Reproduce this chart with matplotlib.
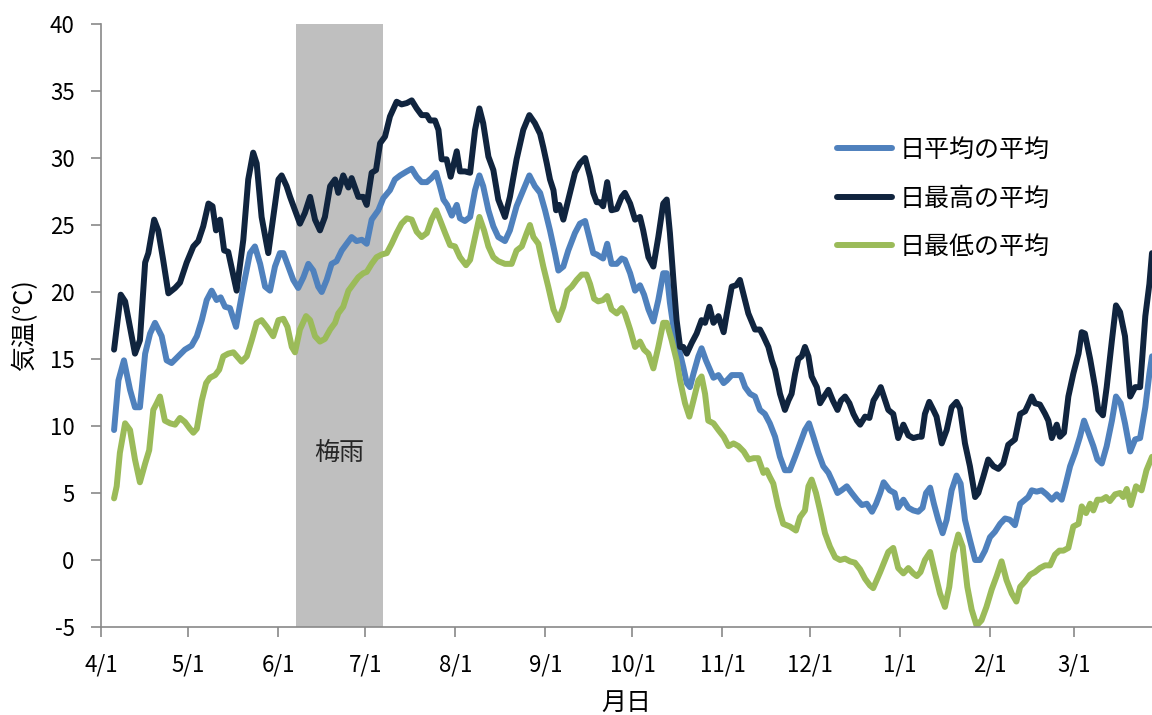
import numpy as np
import pandas as pd
import matplotlib
matplotlib.use('Agg')
import matplotlib.pyplot as plt

plt.rcParams['font.family'] = ['Noto Sans CJK JP', 'DejaVu Sans']
plt.rcParams['axes.unicode_minus'] = False

# 4/1 からの経過日数と気温
max_day = [4.5, 6.8, 8.3, 11.7, 13.4, 15.2, 16.3, 18.3, 19.7, 21.4, 23.2, 25.5, 27.2, 29.5, 31.8, 33.5,
           35.2, 37.0, 38.4, 39.6, 41.0, 42.4, 43.8, 46.7, 49.0, 50.7, 52.4, 53.6, 55.3, 57.6, 59.3, 61.1,
           62.2, 63.9, 65.1, 66.8, 68.5, 70.2, 72.0, 73.7, 75.4, 77.1, 78.9, 80.6, 81.7, 83.4, 85.2, 86.3,
           88.6, 90.3, 91.5, 93.2, 94.7, 96.1, 97.8, 99.5, 101.8, 103.5, 105.3, 107.0, 108.7, 110.4, 112.2,
           113.3, 115.0, 116.2, 117.3, 119.0, 120.4, 122.5, 123.6, 125.3, 127.1, 128.8, 130.3, 131.6, 133.4,
           135.1, 136.8, 139.1, 140.8, 143.1, 145.4, 147.5, 149.4, 151.2, 152.3, 153.5, 154.6, 155.8, 156.7,
           157.8, 159.2, 160.9, 163.2, 164.9, 166.7, 168.4, 169.5, 170.7, 171.8, 172.9, 174.3, 175.8, 177.6,
           179.3, 180.4, 182.2, 183.9, 185.6, 186.7, 188.5, 190.2, 191.9, 193.6, 194.8, 195.9, 197.1, 198.2,
           199.4, 200.5, 201.7, 203.4, 205.1, 206.8, 208.0, 209.5, 210.9, 212.6, 214.4, 215.5, 217.2, 218.7,
           220.0, 221.4, 222.9, 225.2, 226.9, 228.1, 229.8, 231.0, 232.1, 233.8, 235.5, 236.7, 237.8, 239.0,
           240.1, 241.3, 242.4, 243.6, 244.7, 246.5, 247.6, 249.0, 250.5, 252.0, 253.6, 254.8, 256.2, 257.7,
           259.1, 260.3, 261.4, 263.1, 264.6, 266.0, 267.1, 268.5, 271.1, 272.8, 274.5, 276.3, 278.0, 279.7,
           281.4, 282.6, 283.7, 285.2, 286.6, 287.7, 289.5, 291.2, 292.9, 294.6, 295.8, 297.5, 299.2, 301.0,
           302.1, 303.8, 305.5, 307.3, 309.0, 310.7, 312.4, 314.7, 316.5, 318.2, 319.3, 320.5, 321.6, 323.3,
           325.1, 326.2, 327.4, 329.1, 330.2, 331.6, 333.1, 334.8, 336.6, 337.7, 338.8, 340.6, 342.3, 343.4,
           345.0, 346.3, 348.1, 349.5, 350.9, 352.6, 354.4, 356.1, 357.8, 359.6, 361.0, 361.9]
max_val = [15.7, 19.8, 19.3, 15.4, 16.4, 22.2, 22.9, 25.4, 24.6, 22.4, 19.9, 20.3, 20.7, 22.2, 23.4, 23.8,
           24.9, 26.6, 26.4, 24.6, 25.4, 23.1, 23.0, 20.1, 23.9, 28.4, 30.4, 29.6, 25.6, 22.9, 25.6, 28.4,
           28.7, 27.9, 27.1, 26.1, 25.1, 25.9, 27.1, 25.4, 24.6, 25.6, 27.9, 28.4, 27.4, 28.7, 27.8, 28.5,
           27.1, 27.1, 26.5, 28.9, 29.1, 31.1, 31.6, 33.1, 34.2, 34.0, 34.1, 34.3, 33.7, 33.2, 33.2,
           32.8, 32.8, 32.1, 29.9, 29.9, 28.6, 30.5, 29.0, 29.0, 28.9, 32.1, 33.7, 32.6, 30.1,
           29.1, 26.9, 25.6, 27.1, 29.9, 32.1, 33.2, 32.6, 31.8, 30.8, 29.6, 28.4, 27.6, 26.1,
           26.5, 25.4, 26.9, 28.9, 29.6, 30.0, 28.6, 27.4, 26.7, 26.7, 26.4, 28.2, 26.1, 26.2,
           27.1, 27.4, 26.6, 25.4, 25.6, 24.6, 22.6, 21.9, 24.1, 26.6, 26.9, 24.4, 20.9, 17.9,
           15.9, 15.9, 15.4, 16.2, 16.9, 17.9, 17.7, 18.9, 17.7, 18.2, 17.0, 18.4, 20.4, 20.5,
           20.9, 19.7, 18.4, 17.2, 17.2, 16.7, 15.9, 14.9, 14.2, 12.4, 11.2, 11.9, 12.4, 13.9,
           15.0, 15.2, 15.9, 15.2, 13.7, 12.9, 11.7, 12.2, 12.7, 11.9, 11.2, 11.9, 12.2, 11.7,
           10.9, 10.4, 10.1, 10.7, 10.6, 11.9, 12.3, 12.9, 11.2, 10.9, 9.1, 10.1, 9.3, 9.1,
           9.2, 9.2, 10.9, 11.8, 11.2, 10.7, 8.7, 9.7, 11.4, 11.8, 11.3, 8.7, 7.0, 4.7,
           5.0, 6.2, 7.5, 7.0, 6.8, 7.2, 8.6, 9.0, 10.9, 11.1, 11.6, 12.2, 11.7, 11.6,
           10.9, 10.4, 9.1, 10.1, 9.2, 9.5, 12.2, 13.9, 15.4, 17.0, 16.9, 15.0, 12.9, 11.2,
           10.8, 12.9, 16.4, 19.0, 18.5, 16.7, 12.2, 12.9, 12.9, 18.2, 20.6, 22.9]

avg_day = [4.5, 6.0, 7.9, 10.0, 11.7, 13.4, 15.2, 16.9, 18.6, 20.9, 22.6, 24.3, 26.6, 28.9, 31.2, 33.0,
           34.7, 36.4, 38.1, 39.8, 41.2, 42.7, 44.4, 46.5, 49.0, 51.3, 53.0, 54.8, 56.5, 58.2, 59.9, 61.6,
           62.8, 64.5, 66.2, 67.9, 69.7, 71.4, 73.1, 74.8, 76.0, 77.7, 79.4, 81.1, 82.9, 84.6, 86.3, 88.0,
           89.8, 91.5, 93.2, 95.5, 97.2, 99.5, 101.2, 103.0, 105.3, 107.0, 108.7, 110.4, 112.2, 113.8, 115.4,
           116.7, 117.9, 119.2, 120.8, 122.5, 123.6, 125.3, 127.1, 128.8, 130.3, 131.6, 133.4, 135.1, 136.8,
           139.1, 140.8, 143.1, 145.4, 147.5, 149.4, 151.2, 152.9, 154.6, 156.3, 157.5, 159.2, 160.9, 163.2,
           164.9, 166.7, 168.1, 169.5, 170.7, 172.1, 172.9, 174.3, 175.8, 177.6, 179.3, 180.4, 182.2, 183.9,
           185.6, 187.0, 188.5, 190.2, 191.9, 193.6, 194.8, 195.9, 197.1, 198.2, 199.4, 200.5, 201.7, 202.8,
           204.0, 205.7, 206.8, 208.3, 209.7, 210.9, 212.6, 214.4, 215.5, 217.2, 218.9, 220.3, 221.8, 223.5,
           225.2, 226.9, 228.6, 230.3, 232.1, 233.8, 235.5, 237.2, 239.0, 240.7, 242.4, 243.8, 245.3, 247.0,
           248.7, 250.5, 252.2, 253.6, 255.0, 256.8, 258.5, 260.3, 262.0, 263.7, 265.5, 266.9, 268.3, 269.5,
           271.6, 273.3, 274.5, 276.3, 278.0, 279.7, 281.4, 282.9, 284.1, 285.5, 286.8, 288.3, 289.8, 291.2,
           292.9, 294.6, 296.0, 297.5, 299.2, 301.0, 302.7, 304.4, 306.1, 307.8, 309.6, 311.3, 313.0, 314.7,
           316.5, 318.2, 319.3, 320.5, 322.2, 323.9, 325.6, 327.4, 329.1, 330.8, 332.0, 333.7, 335.4, 337.1,
           338.5, 340.0, 341.7, 343.1, 344.6, 346.3, 348.1, 349.5, 351.1, 352.6, 354.4, 356.1, 357.8, 359.6,
           361.0, 361.9]
avg_val = [9.7, 13.4, 14.9, 12.7, 11.4, 11.4, 15.4, 16.9, 17.7, 16.7, 14.9, 14.7, 15.2, 15.7, 16.0, 16.7,
           17.9, 19.4, 20.1, 19.4, 19.6, 18.9, 18.8, 17.4, 20.4, 22.9, 23.4, 22.1, 20.4, 20.1, 21.9, 22.9,
           22.9, 21.9, 20.9, 20.3, 21.1, 22.1, 21.6, 20.4, 20.0, 20.9, 22.1, 22.3, 23.1, 23.6, 24.1, 23.8,
           23.9, 23.6, 25.4, 26.1, 27.0, 27.6, 28.4, 28.7, 29.0, 29.2, 28.6, 28.2, 28.2, 28.5, 28.9,
           27.9, 26.9, 26.5, 25.7, 26.5, 25.5, 25.3, 25.6, 27.6, 28.7, 27.9, 26.1, 24.9, 24.1,
           23.8, 24.6, 26.4, 27.6, 28.7, 27.9, 27.4, 26.1, 24.6, 22.9, 21.6, 21.9, 23.1, 24.4,
           25.1, 25.3, 24.1, 22.9, 22.8, 22.6, 22.5, 23.6, 22.1, 22.1, 22.5, 22.4, 21.4, 20.1,
           20.5, 19.8, 18.7, 17.8, 19.4, 21.4, 21.4, 19.2, 17.4, 16.4, 15.4, 14.4, 13.2, 12.9,
           13.9, 15.2, 15.8, 14.9, 14.2, 13.6, 13.8, 13.2, 13.4, 13.8, 13.8, 13.8, 12.9, 12.4,
           12.2, 11.2, 10.9, 10.2, 9.2, 7.7, 6.7, 6.7, 7.7, 8.7, 9.7, 10.2, 9.2, 8.0,
           7.0, 6.5, 5.7, 5.0, 5.2, 5.5, 5.0, 4.5, 4.1, 4.2, 3.6, 4.2, 5.0, 5.8,
           5.2, 5.0, 3.9, 4.5, 3.9, 3.7, 3.6, 3.9, 5.0, 5.4, 4.2, 3.0, 2.0, 3.0,
           5.2, 6.3, 5.7, 3.0, 1.5, 0.0, 0.0, 0.7, 1.7, 2.1, 2.7, 3.1, 3.0, 2.6,
           4.2, 4.5, 4.7, 5.2, 5.1, 5.2, 4.9, 4.5, 4.9, 4.5, 5.5, 7.0, 8.0, 9.2,
           10.4, 9.5, 8.5, 7.5, 7.2, 8.5, 10.4, 12.2, 11.7, 10.2, 8.1, 9.0, 9.1, 11.4,
           13.9, 15.2]

min_day = [4.5, 5.4, 6.5, 8.3, 10.0, 11.7, 13.4, 15.2, 16.6, 18.0, 19.2, 20.3, 22.0, 23.8, 25.5, 27.2,
           28.9, 30.6, 31.8, 33.0, 34.7, 36.2, 37.5, 39.3, 40.7, 42.1, 43.8, 45.6, 48.4, 50.2, 51.9, 53.6,
           55.3, 57.1, 59.3, 61.1, 62.8, 64.2, 65.7, 66.8, 68.5, 70.6, 72.0, 73.7, 75.4, 77.1, 78.9, 80.6,
           81.7, 83.4, 85.2, 86.9, 88.6, 90.3, 91.5, 93.2, 94.9, 96.7, 98.4, 100.1, 101.8, 103.5, 105.3,
           107.0, 108.7, 110.4, 112.2, 113.8, 115.4, 116.7, 118.5, 120.2, 121.9, 123.6, 125.7, 127.1, 128.8,
           130.3, 131.9, 133.4, 135.1, 136.8, 139.1, 141.4, 143.1, 144.9, 146.6, 147.7, 148.9, 150.6, 152.3,
           154.0, 155.8, 157.5, 159.2, 160.6, 162.1, 163.8, 165.5, 167.2, 168.4, 169.8, 171.2, 172.9, 174.3,
           175.8, 177.6, 179.3, 180.4, 182.2, 183.9, 185.6, 187.0, 188.5, 190.2, 191.9, 193.6, 194.8, 196.5,
           198.2, 199.4, 201.1, 202.6, 204.0, 205.7, 206.8, 208.0, 209.1, 210.9, 212.6, 214.4, 216.1, 217.8,
           219.5, 221.3, 223.0, 224.7, 226.3, 228.1, 229.2, 230.3, 231.5, 233.2, 234.9, 237.2, 239.3, 240.7,
           242.4, 243.6, 244.7, 246.2, 247.6, 249.3, 251.0, 252.8, 254.5, 256.2, 257.9, 259.6, 261.4, 263.1,
           264.8, 265.9, 267.1, 268.3, 271.1, 272.8, 274.5, 276.3, 278.0, 279.7, 280.9, 282.2, 283.7, 285.5,
           287.2, 288.9, 290.6, 292.1, 293.5, 295.2, 296.7, 298.3, 299.8, 301.5, 303.2, 304.9, 306.7, 308.4,
           310.1, 311.8, 313.6, 315.2, 316.5, 318.2, 319.9, 321.6, 323.3, 325.1, 326.8, 328.5, 330.0, 331.4,
           333.1, 334.8, 336.6, 337.7, 339.2, 340.6, 341.7, 343.1, 344.6, 346.1, 347.4, 349.2, 350.9, 352.0,
           353.2, 354.6, 356.4, 358.3, 360.0, 361.9]
min_val = [4.6, 5.5, 8.0, 10.2, 9.7, 7.5, 5.8, 7.2, 8.2, 11.2, 11.7, 12.2, 10.4, 10.2, 10.1, 10.6,
           10.3, 9.8, 9.5, 9.8, 11.9, 13.2, 13.6, 13.8, 14.2, 15.2, 15.4, 15.5, 14.8, 15.2, 16.4, 17.7,
           17.9, 17.4, 16.7, 17.9, 18.0, 17.4, 15.9, 15.5, 17.2, 18.2, 17.9, 16.7, 16.3, 16.5, 17.2, 17.7,
           18.4, 18.9, 20.1, 20.6, 21.1, 21.4, 21.5, 22.1, 22.6, 22.8, 22.9, 23.6, 24.4, 25.1, 25.5,
           25.4, 24.5, 24.1, 24.4, 25.4, 26.1, 25.4, 24.4, 23.5, 23.4, 22.6, 22.0, 22.4, 24.1,
           25.6, 24.6, 23.4, 22.6, 22.3, 22.1, 22.1, 23.1, 23.4, 24.4, 25.0, 24.1, 23.6, 21.9,
           20.4, 18.7, 17.9, 18.9, 20.1, 20.4, 20.9, 21.3, 21.3, 20.6, 19.5, 19.3, 19.4, 19.7,
           18.7, 18.4, 18.8, 18.4, 17.2, 15.9, 16.3, 15.7, 15.4, 14.3, 15.9, 17.7, 17.7, 16.4,
           14.9, 13.4, 11.7, 10.7, 11.9, 13.4, 13.7, 12.4, 10.4, 10.2, 9.7, 9.2, 8.5, 8.7,
           8.5, 8.1, 7.5, 7.6, 7.6, 6.5, 6.7, 6.2, 5.7, 4.0, 2.7, 2.5, 2.2, 3.2,
           3.7, 5.5, 6.0, 5.0, 3.7, 2.0, 1.0, 0.2, 0.0, 0.1, -0.1, -0.2, -0.7, -1.4,
           -1.9, -2.1, -1.5, -0.9, 0.6, 0.9, -0.6, -1.0, -0.6, -1.0, -1.2, -0.9, 0.0, 0.6,
           -1.0, -2.5, -3.5, -2.0, 0.5, 1.9, 1.0, -2.0, -3.7, -4.9, -4.5, -3.5, -2.2, -1.2,
           -0.1, -1.5, -2.5, -3.1, -2.0, -1.6, -1.1, -0.9, -0.6, -0.4, -0.4, 0.4, 0.7, 0.7,
           0.9, 2.5, 2.7, 4.0, 3.5, 4.2, 3.7, 4.5, 4.5, 4.7, 4.4, 4.9, 5.0, 4.7,
           5.3, 4.1, 5.5, 5.2, 6.7, 7.7]

labels = ['日平均の平均', '日最高の平均', '日最低の平均']
colors = ['#4f81bd', '#10243e', '#9bbb59']

start = pd.Timestamp('2015-04-01')
months = pd.date_range(start, periods=12, freq='MS')
tick_days = (months - start).days
tick_labels = [f'{m.month}/1' for m in months]

# 梅雨の期間
rainy_start = (pd.Timestamp('2015-06-07') - start).days
rainy_end = (pd.Timestamp('2015-07-07') - start).days

fig = plt.figure(figsize=(11.52, 7.15), dpi=100)
ax = fig.add_axes([101 / 1152, 1 - 627 / 715, 1 - 101 / 1152, (627 - 24) / 715])

ax.axvspan(rainy_start, rainy_end, color='#bfbfbf', lw=0, zorder=0)
ax.text((rainy_start + rainy_end) / 2, 8, '梅雨', ha='center', va='center', fontsize=18, color='#262626')

line_kw = dict(lw=4.3, solid_capstyle='round', solid_joinstyle='round')
ax.plot(avg_day, avg_val, color=colors[0], label=labels[0], **line_kw)
ax.plot(max_day, max_val, color=colors[1], label=labels[1], **line_kw)
ax.plot(min_day, min_val, color=colors[2], label=labels[2], **line_kw)

ax.set_xlim(0, 361.9)
ax.set_ylim(-5, 40)
ax.set_yticks(np.arange(-5, 41, 5))
ax.set_xticks(tick_days)
ax.set_xticklabels(tick_labels)

for s in ['top', 'right']:
    ax.spines[s].set_visible(False)
for s in ['left', 'bottom']:
    ax.spines[s].set_color('#898989')
    ax.spines[s].set_linewidth(1.2)
ax.tick_params(axis='both', colors='#898989', labelcolor='black', labelsize=16, length=7, width=1.2)
ax.tick_params(axis='x', pad=12)
ax.tick_params(axis='y', pad=12)

ax.set_xlabel('月日', fontsize=18, labelpad=10)
ax.set_ylabel('気温(℃)', fontsize=18, labelpad=8)

leg = ax.legend(loc='upper left', bbox_to_anchor=(837 / 1152, 1 - 137 / 715), bbox_transform=fig.transFigure,
                frameon=False, fontsize=18, handlelength=2.2, handletextpad=0.3, labelspacing=0.9,
                borderpad=0, borderaxespad=0)

fig.savefig('out.png', dpi=100)
